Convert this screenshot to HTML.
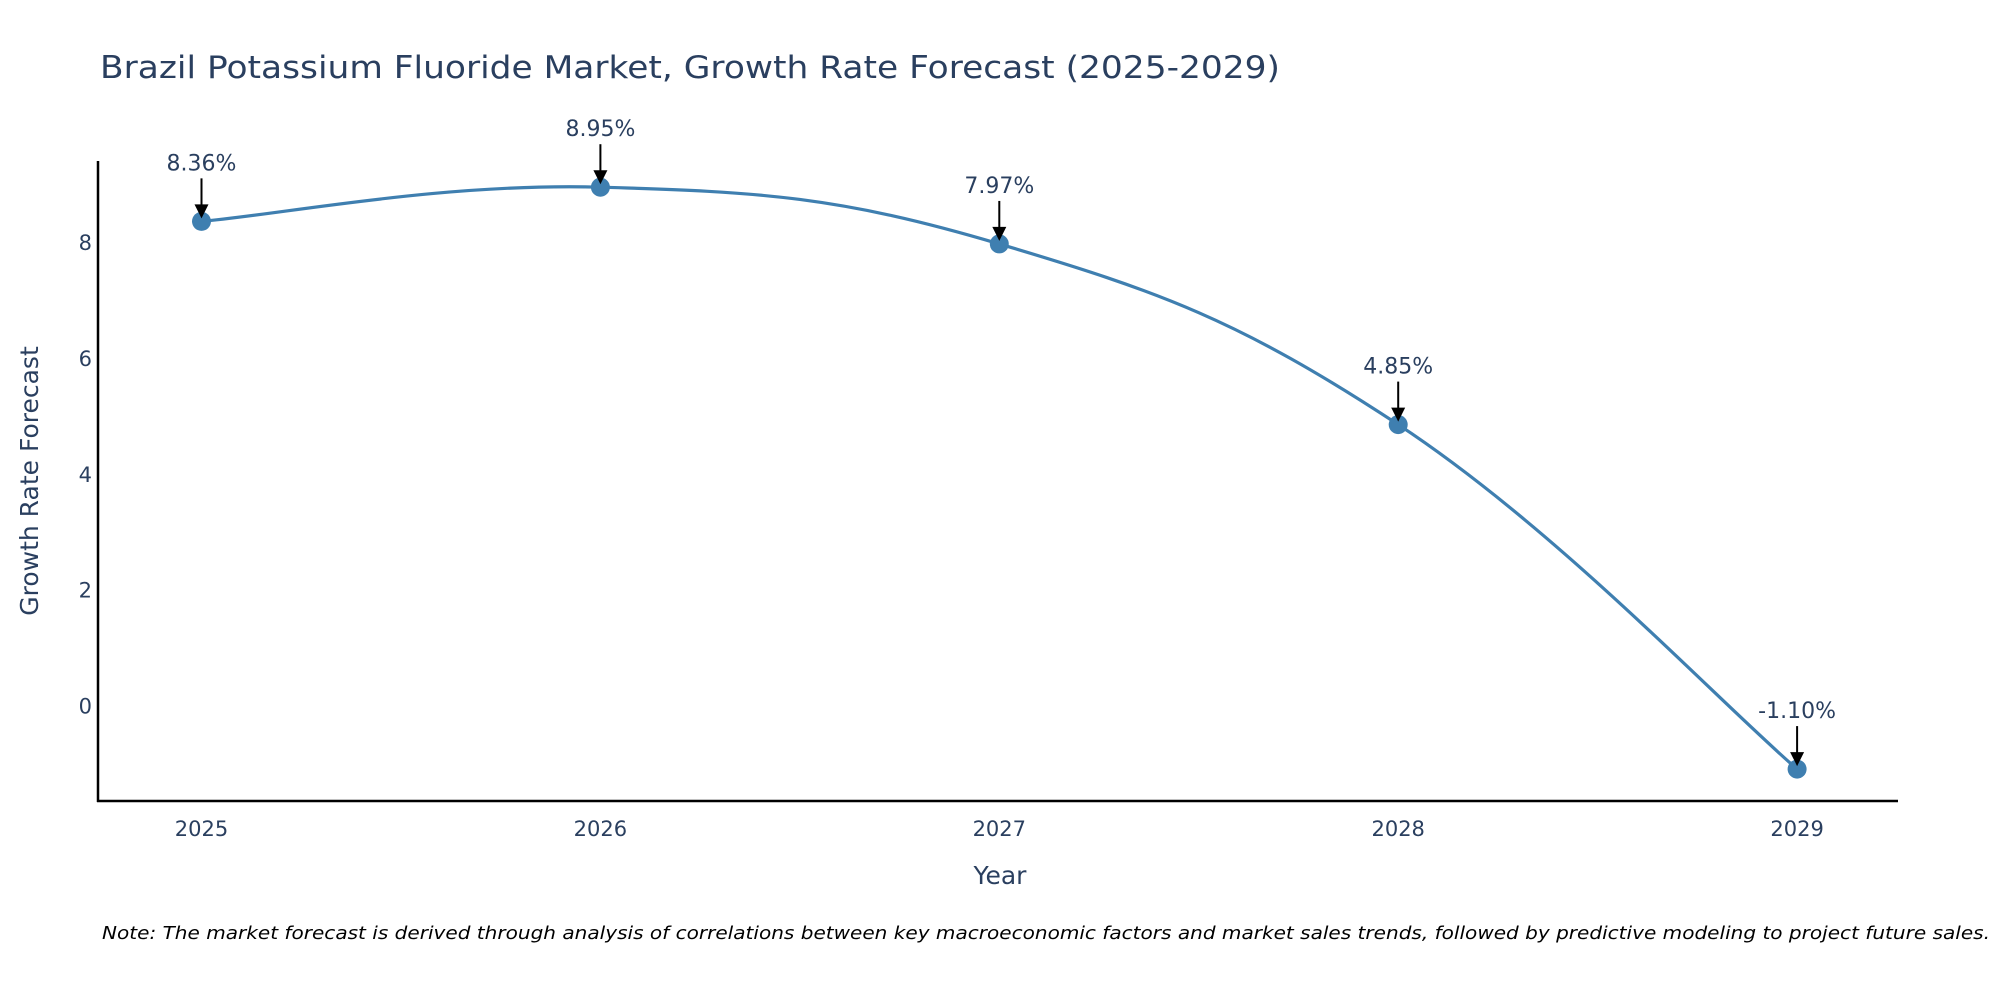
<!DOCTYPE html>
<html><head><meta charset="utf-8"><style>
body{margin:0;background:#fff}
svg{display:block;font-family:"DejaVu Sans","Liberation Sans",sans-serif}
</style></head><body>
<svg id="chart" width="2000" height="1000">
<text x="100" y="78" font-size="31" fill="#2a3f5f" textLength="1180" lengthAdjust="spacingAndGlyphs">Brazil Potassium Fluoride Market, Growth Rate Forecast (2025-2029)</text>
<g id="yticks"></g><g id="xticks"></g>
<path id="line" fill="none" stroke="#3f7fb0" stroke-width="3.2"></path>
<g id="marks"></g>
<line x1="98" y1="161" x2="98" y2="802" stroke="#000" stroke-width="2.5"/>
<line x1="97" y1="801" x2="1898" y2="801" stroke="#000" stroke-width="2.5"/>
<text transform="translate(38,481) rotate(-90)" text-anchor="middle" font-size="25" fill="#2a3f5f">Growth Rate Forecast</text>
<text x="1000" y="884" text-anchor="middle" font-size="25" fill="#2a3f5f">Year</text>
<text x="102" y="939" font-size="18" font-style="italic" fill="#000" textLength="1888" lengthAdjust="spacingAndGlyphs">Note: The market forecast is derived through analysis of correlations between key macroeconomic factors and market sales trends, followed by predictive modeling to project future sales.</text>
</svg>
<script>
const years=[2025,2026,2027,2028,2029];
const values=[8.36,8.95,7.97,4.85,-1.10];
const labels=["8.36%","8.95%","7.97%","4.85%","-1.10%"];
const yTicks=[0,2,4,6,8];
const NS="http://www.w3.org/2000/svg";
function X(v){return 201.5+(v-2025)*398.9;}
function Y(v){return 705.4-v*57.9;}
function mk(t,a){const e=document.createElementNS(NS,t);for(const k in a)e.setAttribute(k,a[k]);return e;}
const yg=document.getElementById('yticks');
yTicks.forEach(t=>{const e=mk('text',{x:92,y:Y(t)+8,'text-anchor':'end','font-size':21,fill:'#2a3f5f'});


e.textContent=t;yg.appendChild(e);});
const xg=document.getElementById('xticks');
years.forEach(t=>{const e=mk('text',{x:X(t),y:836,'text-anchor':'middle','font-size':21,fill:'#2a3f5f'});


e.textContent=t;xg.appendChild(e);});
const pts=years.map((y,i)=>[X(y),Y(values[i])]);
let d='M'+pts[0][0]+','+pts[0][1];
const s=0.2;
for(let i=0;i<pts.length-1;i++){
 const p0=pts[Math.max(0,i-1)],p1=pts[i],p2=pts[i+1],p3=pts[Math.min(pts.length-1,i+2)];
 const c1=[p1[0]+(p2[0]-p0[0])*s,p1[1]+(p2[1]-p0[1])*s];
 const c2=[p2[0]-(p3[0]-p1[0])*s,p2[1]-(p3[1]-p1[1])*s];
 d+=' C'+c1+' '+c2+' '+p2;
}
document.getElementById('line').setAttribute('d',d);
const mg=document.getElementById('marks');
pts.forEach((p,i)=>{
 const c=mk('circle',{cx:p[0],cy:p[1],r:9.5,fill:'#3f7fb0'});
 
 
 mg.appendChild(c);
 const l=mk('line',{x1:p[0],y1:p[1]-43,x2:p[0],y2:p[1]-14,stroke:'#000','stroke-width':2});
 
 
 mg.appendChild(l);
 const h=mk('path',{d:`M${p[0]-7},${p[1]-17} L${p[0]+7},${p[1]-17} L${p[0]},${p[1]-3} Z`,fill:'#000'});
 
 
 mg.appendChild(h);
 const t=mk('text',{x:p[0],y:p[1]-51,'text-anchor':'middle','font-size':22,fill:'#2a3f5f'});
 
 
 t.textContent=labels[i];mg.appendChild(t);
});
</script>
</body></html>
